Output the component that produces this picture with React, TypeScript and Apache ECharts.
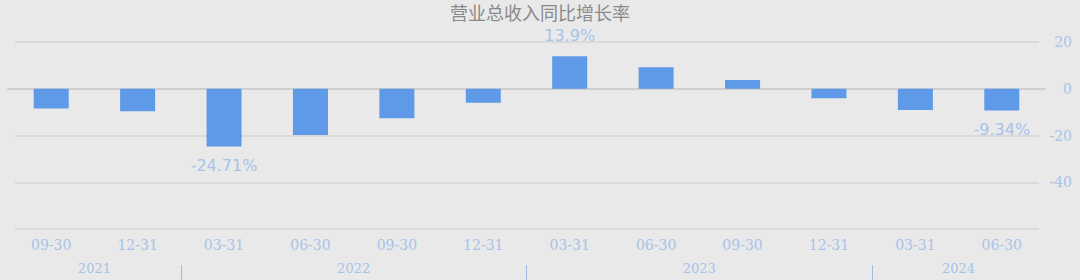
import React, { useEffect, useRef } from "react";
import * as echarts from "echarts";

const titleText = "营业总收入同比增长率";
const categories = ["09-30", "12-31", "03-31", "06-30", "09-30", "12-31", "03-31", "06-30", "09-30", "12-31", "03-31", "06-30"];
const growth = [-8.4, -9.6, -24.71, -19.8, -12.6, -6.0, 13.9, 9.2, 3.7, -4.1, -9.1, -9.34];
const years = ["2021", "2022", "2023", "2024"];
const yearSpans = [2, 4, 4, 2];
const yMin = -60;
const yMax = 20;
const yInterval = 20;

const LABEL_BLUE = "#a7c3e9";
const BAR_BLUE = "#5e9ae7";
const SERIF = "'DejaVu Serif', serif";
const SANS = "'DejaVu Sans', sans-serif";

export default function App() {
  const ref = useRef<HTMLDivElement>(null);

  useEffect(() => {
    if (!ref.current) return;
    const chart = echarts.init(ref.current, undefined, { renderer: "svg" });

    const yearCenters: number[] = [];
    const yearSeps: number[] = [];
    let acc = 0;
    yearSpans.forEach((s, i) => {
      yearCenters.push(acc + s / 2);
      acc += s;
      if (i < yearSpans.length - 1) yearSeps.push(acc);
    });

    const maxIdx = growth.indexOf(Math.max(...growth));
    const minIdx = growth.indexOf(Math.min(...growth));
    const lastIdx = growth.length - 1;

    const barData = growth.map((v, i) => {
      const show = i === maxIdx || i === minIdx || i === lastIdx;
      return {
        value: v,
        label: {
          show,
          position: v >= 0 ? "top" : "bottom",
          distance: v >= 0 ? 13 : 11,
        },
      };
    });

    chart.setOption({
      animation: false,
      backgroundColor: "#e9e9e9",
      title: {
        text: titleText,
        left: "center",
        top: 0,
        padding: [3, 5, 0, 5],
        textStyle: {
          fontSize: 18,
          lineHeight: 18,
          fontWeight: "normal",
          color: "#8a8a8a",
          fontFamily: "'Noto Sans CJK SC', sans-serif",
        },
      },
      grid: [
        { left: 8, right: 35, top: 42, bottom: 51 },
        { left: 15, right: 41, top: 42, bottom: 51 },
      ],
      xAxis: [
        {
          type: "category",
          gridIndex: 0,
          data: categories,
          axisLine: { show: true, onZero: true, lineStyle: { color: "#cfcfcf", width: 2 } },
          axisTick: { show: false },
          axisLabel: {
            color: LABEL_BLUE,
            fontFamily: SERIF,
            fontSize: 14,
            margin: 9,
          },
          position: "bottom",
        },
        {
          type: "value",
          gridIndex: 0,
          min: 0,
          max: categories.length,
          position: "bottom",
          offset: 36,
          splitLine: { show: false },
          axisLine: { show: false },
          axisTick: {
            show: true,
            customValues: yearSeps,
            length: 20,
            lineStyle: { color: "#9dbce6", width: 1 },
          },
          axisLabel: {
            customValues: yearCenters,
            formatter: (v: number) => {
              const i = yearCenters.indexOf(v);
              return i >= 0 ? years[i] : "";
            },
            color: LABEL_BLUE,
            fontFamily: SERIF,
            fontSize: 13,
            margin: -3,
          },
        },
        {
          type: "category",
          gridIndex: 1,
          data: categories,
          show: false,
        },
      ],
      yAxis: [
        {
          type: "value",
          gridIndex: 0,
          min: yMin,
          max: yMax,
          interval: yInterval,
          show: false,
          splitLine: { show: false },
        },
        {
          type: "value",
          gridIndex: 1,
          min: yMin,
          max: yMax,
          interval: yInterval,
          position: "right",
          axisLine: { show: false },
          axisTick: { show: false },
          splitLine: { show: true, lineStyle: { color: "#d3d3d3", width: 1.5 } },
          axisLabel: {
            color: LABEL_BLUE,
            fontFamily: SERIF,
            fontSize: 14,
            align: "right",
            margin: 33,
            formatter: (v: number) => (v === yMin ? "" : String(v)),
          },
        },
      ],
      series: [
        {
          type: "bar",
          xAxisIndex: 0,
          yAxisIndex: 0,
          barWidth: 35,
          data: barData,
          itemStyle: { color: BAR_BLUE },
          label: {
            color: LABEL_BLUE,
            fontFamily: SANS,
            fontSize: 16,
            lineHeight: 16,
            formatter: (p: any) => `${p.value}%`,
          },
          z: 3,
        },
      ],
    });

    return () => chart.dispose();
  }, []);

  return (
    <div
      ref={ref}
      style={{ position: "absolute", left: 0, top: 0, width: 1080, height: 280 }}
    />
  );
}
